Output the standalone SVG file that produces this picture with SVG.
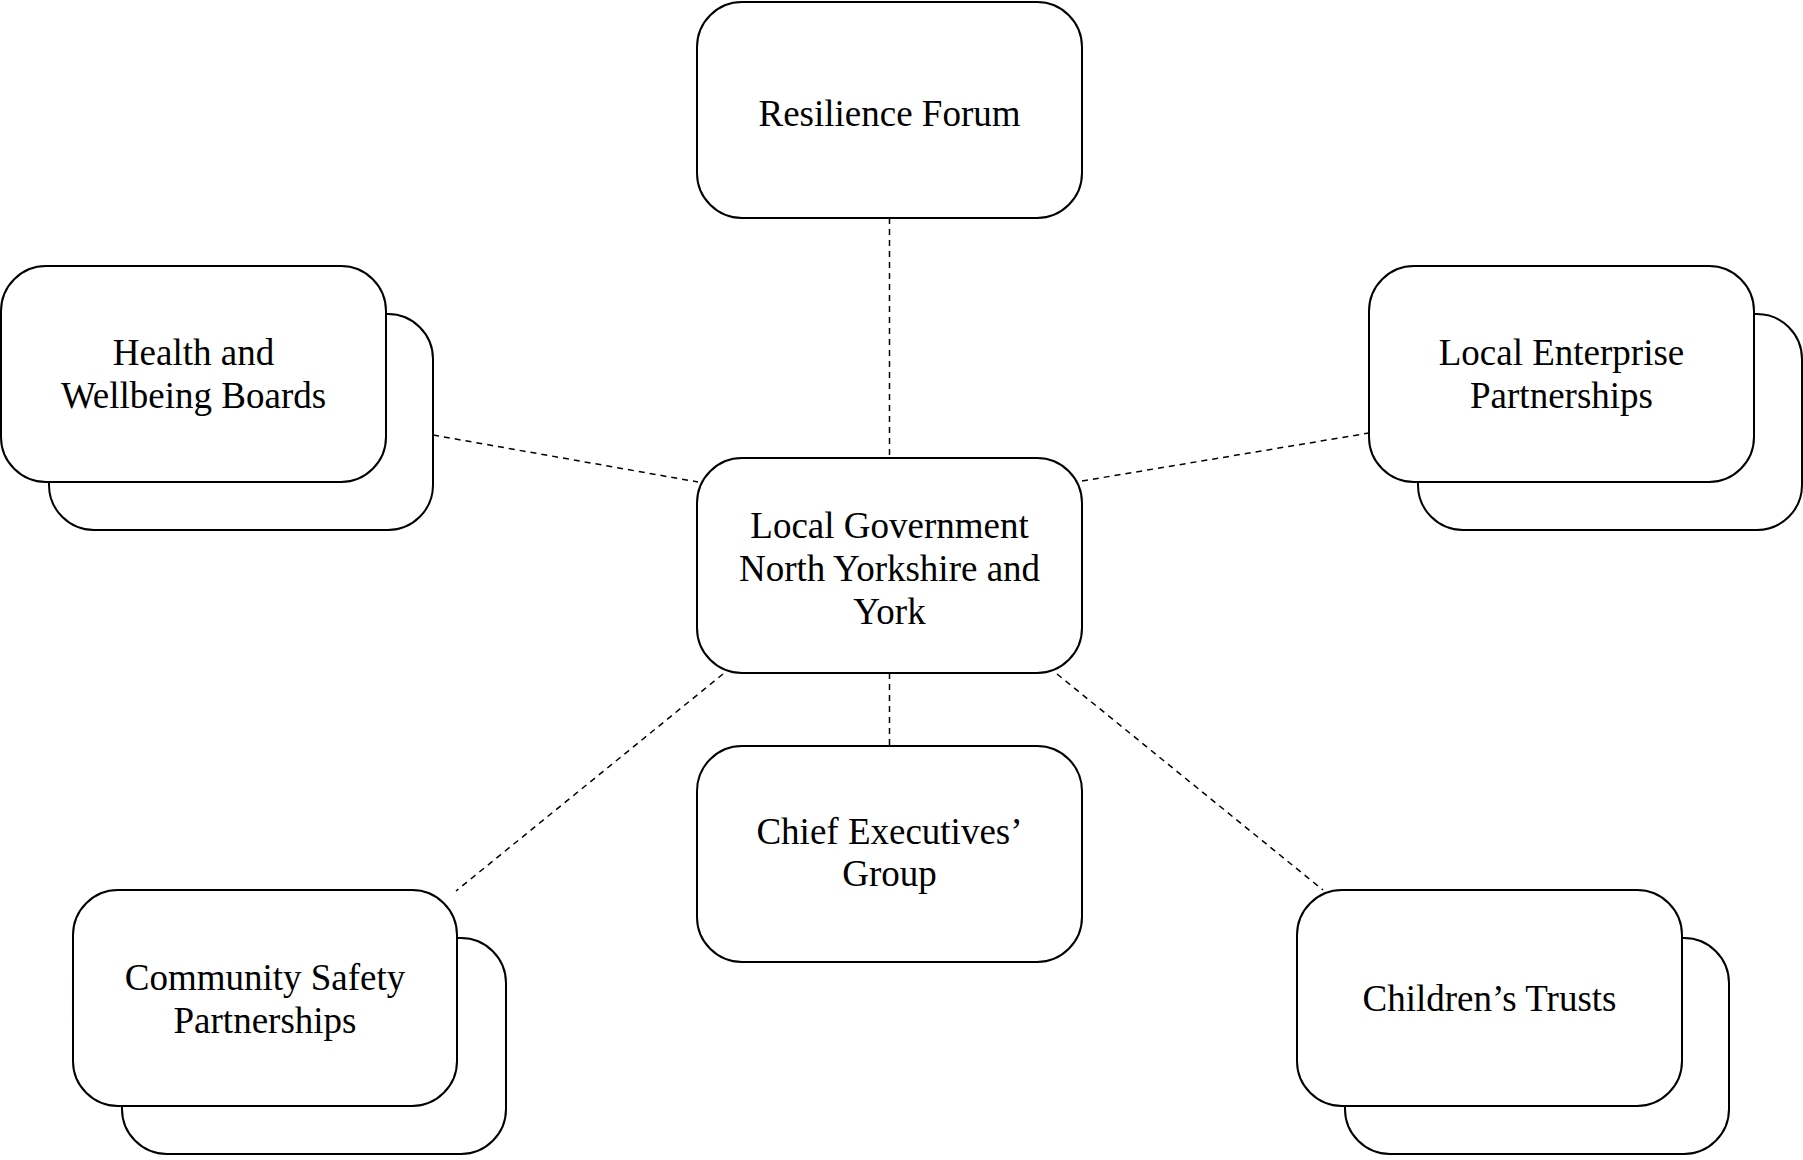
<svg xmlns="http://www.w3.org/2000/svg" width="1803" height="1160" viewBox="0 0 1803 1160">
<style>
.box{fill:#fff;stroke:#000;stroke-width:2}
.lbl{font-family:"Liberation Serif","Times New Roman",serif;font-size:37px;fill:#000;text-anchor:middle}
.con{stroke:#000;stroke-width:1.5;stroke-dasharray:6 5;fill:none}
</style>
<rect width="1803" height="1160" fill="#fff"/>
<g id="connectors">
<line class="con" x1="889.5" y1="218" x2="889.5" y2="458"/>
<line class="con" x1="889.5" y1="673" x2="889.5" y2="746"/>
<line class="con" x1="433" y1="435" x2="698" y2="482"/>
<line class="con" x1="1082" y1="481" x2="1369" y2="433"/>
<line class="con" x1="723" y1="674" x2="456" y2="891"/>
<line class="con" x1="1057" y1="674" x2="1323" y2="890"/>
</g>
<g id="resilience">
<rect class="box" x="697" y="2" width="385" height="216" rx="45"/>
<text class="lbl" x="889.5" y="126">Resilience Forum</text>
</g>
<g id="health">
<rect class="box" x="49" y="314" width="384" height="216" rx="45"/>
<rect class="box" x="1" y="266" width="385" height="216" rx="45"/>
<text class="lbl" x="193.5" y="365">Health and</text>
<text class="lbl" x="193.5" y="408">Wellbeing Boards</text>
</g>
<g id="lep">
<rect class="box" x="1418" y="314" width="384" height="216" rx="45"/>
<rect class="box" x="1369" y="266" width="385" height="216" rx="45"/>
<text class="lbl" x="1561.5" y="365">Local Enterprise</text>
<text class="lbl" x="1561.5" y="408">Partnerships</text>
</g>
<g id="central">
<rect class="box" x="697" y="458" width="385" height="215" rx="45"/>
<text class="lbl" x="889.5" y="538">Local Government</text>
<text class="lbl" x="889.5" y="581">North Yorkshire and</text>
<text class="lbl" x="889.5" y="624">York</text>
</g>
<g id="chief">
<rect class="box" x="697" y="746" width="385" height="216" rx="45"/>
<text class="lbl" x="889.5" y="844">Chief Executives’</text>
<text class="lbl" x="889.5" y="886">Group</text>
</g>
<g id="community">
<rect class="box" x="122" y="938" width="384" height="216" rx="45"/>
<rect class="box" x="73" y="890" width="384" height="216" rx="45"/>
<text class="lbl" x="265" y="990">Community Safety</text>
<text class="lbl" x="265" y="1033">Partnerships</text>
</g>
<g id="children">
<rect class="box" x="1345" y="938" width="384" height="216" rx="45"/>
<rect class="box" x="1297" y="890" width="385" height="216" rx="45"/>
<text class="lbl" x="1489.5" y="1011">Children’s Trusts</text>
</g>
</svg>
